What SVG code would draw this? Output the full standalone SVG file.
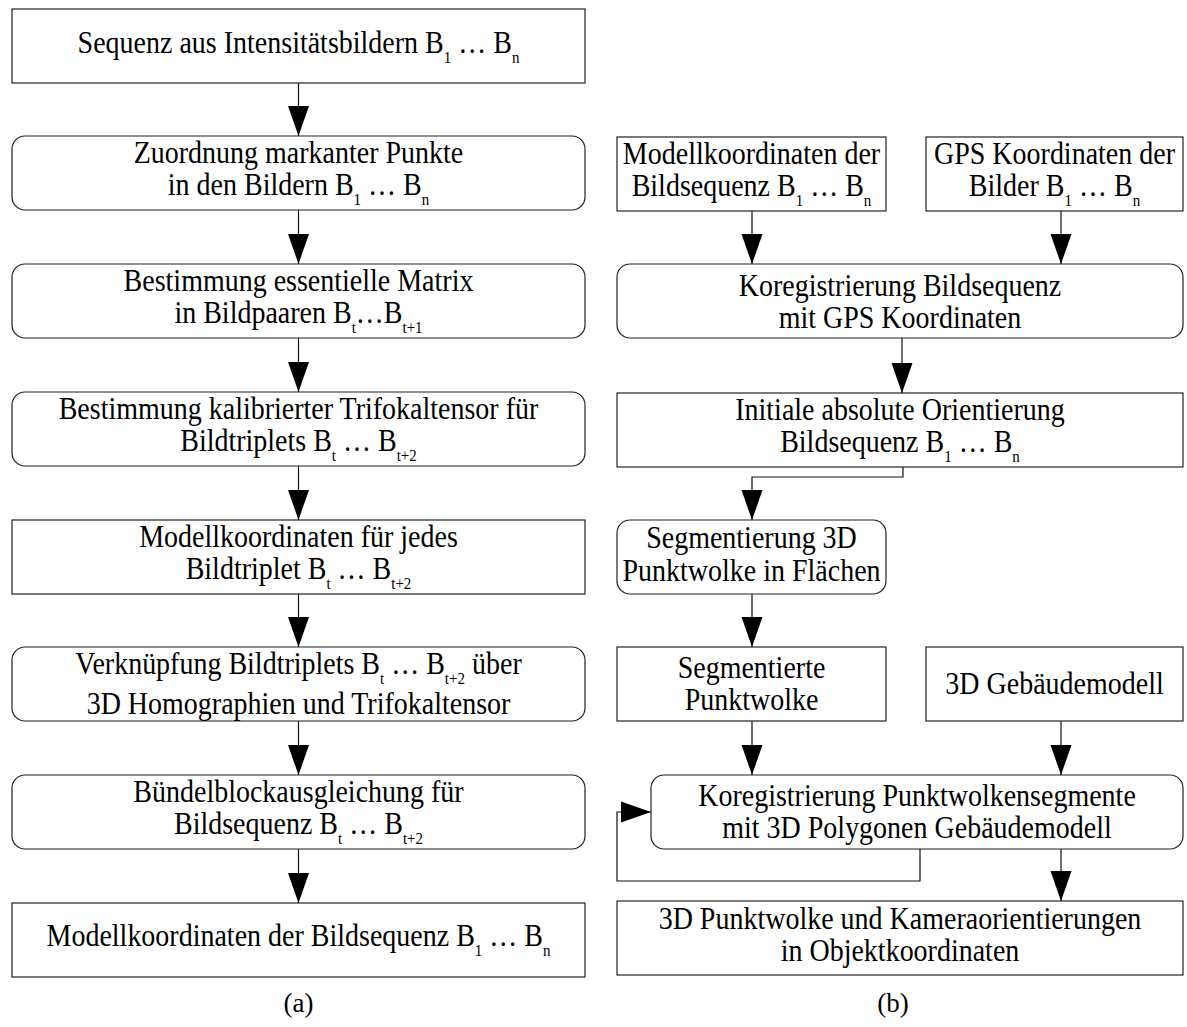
<svg xmlns="http://www.w3.org/2000/svg" width="1187" height="1027" viewBox="0 0 1187 1027">
<style>
  .box{fill:#fff;stroke:#222;stroke-width:1.2}
  .t{font-family:"Liberation Serif","Times New Roman",serif;font-size:28px;fill:#000;text-anchor:middle}
  .s{font-size:15px}
  .cap{font-family:"Liberation Serif","Times New Roman",serif;font-size:27px;fill:#000;text-anchor:middle}
  .c{fill:none;stroke:#111;stroke-width:1.2}
</style>
<defs>
  <marker id="ah" markerUnits="userSpaceOnUse" markerWidth="30" markerHeight="22" refX="30" refY="11" orient="auto">
    <path d="M0,0.5 L30,11 L0,21.5 z" fill="#000"/>
  </marker>
</defs>
<rect width="1187" height="1027" fill="#fff"/>

<g id="connectors">
  <line class="c" x1="298.5" y1="83" x2="298.5" y2="136" marker-end="url(#ah)"/>
  <line class="c" x1="298.5" y1="210" x2="298.5" y2="264" marker-end="url(#ah)"/>
  <line class="c" x1="298.5" y1="338" x2="298.5" y2="392" marker-end="url(#ah)"/>
  <line class="c" x1="298.5" y1="466" x2="298.5" y2="520" marker-end="url(#ah)"/>
  <line class="c" x1="298.5" y1="594" x2="298.5" y2="647" marker-end="url(#ah)"/>
  <line class="c" x1="298.5" y1="721" x2="298.5" y2="775" marker-end="url(#ah)"/>
  <line class="c" x1="298.5" y1="849" x2="298.5" y2="903" marker-end="url(#ah)"/>

  <line class="c" x1="752" y1="211" x2="752" y2="264" marker-end="url(#ah)"/>
  <line class="c" x1="1061" y1="211" x2="1061" y2="264" marker-end="url(#ah)"/>
  <line class="c" x1="902" y1="338" x2="902" y2="393" marker-end="url(#ah)"/>
  <polyline class="c" points="903,467 903,477 752,477 752,520" marker-end="url(#ah)"/>
  <line class="c" x1="752" y1="594" x2="752" y2="647" marker-end="url(#ah)"/>
  <line class="c" x1="752" y1="721" x2="752" y2="775" marker-end="url(#ah)"/>
  <line class="c" x1="1061" y1="721" x2="1061" y2="775" marker-end="url(#ah)"/>
  <polyline class="c" points="920,849 920,881 617,881 617,812 651,812" marker-end="url(#ah)"/>
  <line class="c" x1="1061" y1="849" x2="1061" y2="901" marker-end="url(#ah)"/>
</g>

<g id="a1">
  <rect class="box" x="12" y="9" width="573" height="74"/>
  <text class="t" transform="translate(298.5,53) scale(1,1.1)">Sequenz aus Intensitätsbildern B<tspan class="s" dy="9">1</tspan><tspan dy="-9"> … B</tspan><tspan class="s" dy="9">n</tspan></text>
</g>
<g id="a2">
  <rect class="box" x="12" y="136" width="573" height="74" rx="13"/>
  <text class="t" transform="translate(298.5,163) scale(1,1.1)">Zuordnung markanter Punkte</text>
  <text class="t" transform="translate(298.5,195) scale(1,1.1)">in den Bildern B<tspan class="s" dy="9">1</tspan><tspan dy="-9"> … B</tspan><tspan class="s" dy="9">n</tspan></text>
</g>
<g id="a3">
  <rect class="box" x="12" y="264" width="573" height="74" rx="13"/>
  <text class="t" transform="translate(298.5,291) scale(1,1.1)">Bestimmung essentielle Matrix</text>
  <text class="t" transform="translate(298.5,323) scale(1,1.1)">in Bildpaaren B<tspan class="s" dy="9">t</tspan><tspan dy="-9">…B</tspan><tspan class="s" dy="9">t+1</tspan></text>
</g>
<g id="a4">
  <rect class="box" x="12" y="392" width="573" height="74" rx="13"/>
  <text class="t" transform="translate(298.5,419) scale(1,1.1)">Bestimmung kalibrierter Trifokaltensor für</text>
  <text class="t" transform="translate(298.5,451) scale(1,1.1)">Bildtriplets B<tspan class="s" dy="9">t</tspan><tspan dy="-9"> … B</tspan><tspan class="s" dy="9">t+2</tspan></text>
</g>
<g id="a5">
  <rect class="box" x="12" y="520" width="573" height="74"/>
  <text class="t" transform="translate(298.5,547) scale(1,1.1)">Modellkoordinaten für jedes</text>
  <text class="t" transform="translate(298.5,579) scale(1,1.1)">Bildtriplet B<tspan class="s" dy="9">t</tspan><tspan dy="-9"> … B</tspan><tspan class="s" dy="9">t+2</tspan></text>
</g>
<g id="a6">
  <rect class="box" x="12" y="647" width="573" height="74" rx="13"/>
  <text class="t" transform="translate(298.5,674) scale(1,1.1)">Verknüpfung Bildtriplets B<tspan class="s" dy="9">t</tspan><tspan dy="-9"> … B</tspan><tspan class="s" dy="9">t+2</tspan><tspan dy="-9"> über</tspan></text>
  <text class="t" transform="translate(298.5,714) scale(1,1.1)">3D Homographien und Trifokaltensor</text>
</g>
<g id="a7">
  <rect class="box" x="12" y="775" width="573" height="74" rx="13"/>
  <text class="t" transform="translate(298.5,802) scale(1,1.1)">Bündelblockausgleichung für</text>
  <text class="t" transform="translate(298.5,834) scale(1,1.1)">Bildsequenz B<tspan class="s" dy="9">t</tspan><tspan dy="-9"> … B</tspan><tspan class="s" dy="9">t+2</tspan></text>
</g>
<g id="a8">
  <rect class="box" x="12" y="903" width="573" height="74"/>
  <text class="t" transform="translate(298.5,946) scale(1,1.1)">Modellkoordinaten der Bildsequenz B<tspan class="s" dy="9">1</tspan><tspan dy="-9"> … B</tspan><tspan class="s" dy="9">n</tspan></text>
</g>

<g id="b1">
  <rect class="box" x="617" y="137" width="269" height="74"/>
  <text class="t" transform="translate(751.5,164) scale(1,1.1)">Modellkoordinaten der</text>
  <text class="t" transform="translate(751.5,196) scale(1,1.1)">Bildsequenz B<tspan class="s" dy="9">1</tspan><tspan dy="-9"> … B</tspan><tspan class="s" dy="9">n</tspan></text>
</g>
<g id="b2">
  <rect class="box" x="926" y="137" width="257" height="74"/>
  <text class="t" transform="translate(1054.5,164) scale(1,1.1)">GPS Koordinaten der</text>
  <text class="t" transform="translate(1054.5,196) scale(1,1.1)">Bilder B<tspan class="s" dy="9">1</tspan><tspan dy="-9"> … B</tspan><tspan class="s" dy="9">n</tspan></text>
</g>
<g id="b3">
  <rect class="box" x="617" y="264" width="566" height="74" rx="13"/>
  <text class="t" transform="translate(900,296) scale(1,1.1)">Koregistrierung Bildsequenz</text>
  <text class="t" transform="translate(900,328) scale(1,1.1)">mit GPS Koordinaten</text>
</g>
<g id="b4">
  <rect class="box" x="617" y="393" width="566" height="74"/>
  <text class="t" transform="translate(900,420) scale(1,1.1)">Initiale absolute Orientierung</text>
  <text class="t" transform="translate(900,452) scale(1,1.1)">Bildsequenz B<tspan class="s" dy="9">1</tspan><tspan dy="-9"> … B</tspan><tspan class="s" dy="9">n</tspan></text>
</g>
<g id="b5">
  <rect class="box" x="617" y="520" width="269" height="74" rx="13"/>
  <text class="t" transform="translate(751.5,548) scale(1,1.1)">Segmentierung 3D</text>
  <text class="t" transform="translate(751.5,581) scale(1,1.1)">Punktwolke in Flächen</text>
</g>
<g id="b6">
  <rect class="box" x="617" y="647" width="269" height="74"/>
  <text class="t" transform="translate(751.5,678) scale(1,1.1)">Segmentierte</text>
  <text class="t" transform="translate(751.5,710) scale(1,1.1)">Punktwolke</text>
</g>
<g id="b7">
  <rect class="box" x="926" y="647" width="257" height="74"/>
  <text class="t" transform="translate(1054.5,694) scale(1,1.1)">3D Gebäudemodell</text>
</g>
<g id="b8">
  <rect class="box" x="651" y="775" width="532" height="74" rx="13"/>
  <text class="t" transform="translate(917,806) scale(1,1.1)">Koregistrierung Punktwolkensegmente</text>
  <text class="t" transform="translate(917,838) scale(1,1.1)">mit 3D Polygonen Gebäudemodell</text>
</g>
<g id="b9">
  <rect class="box" x="617" y="901" width="566" height="74"/>
  <text class="t" transform="translate(900,929) scale(1,1.1)">3D Punktwolke und Kameraorientierungen</text>
  <text class="t" transform="translate(900,961) scale(1,1.1)">in Objektkoordinaten</text>
</g>

<text class="cap" x="298.5" y="1012">(a)</text>
<text class="cap" x="893" y="1012">(b)</text>
</svg>
